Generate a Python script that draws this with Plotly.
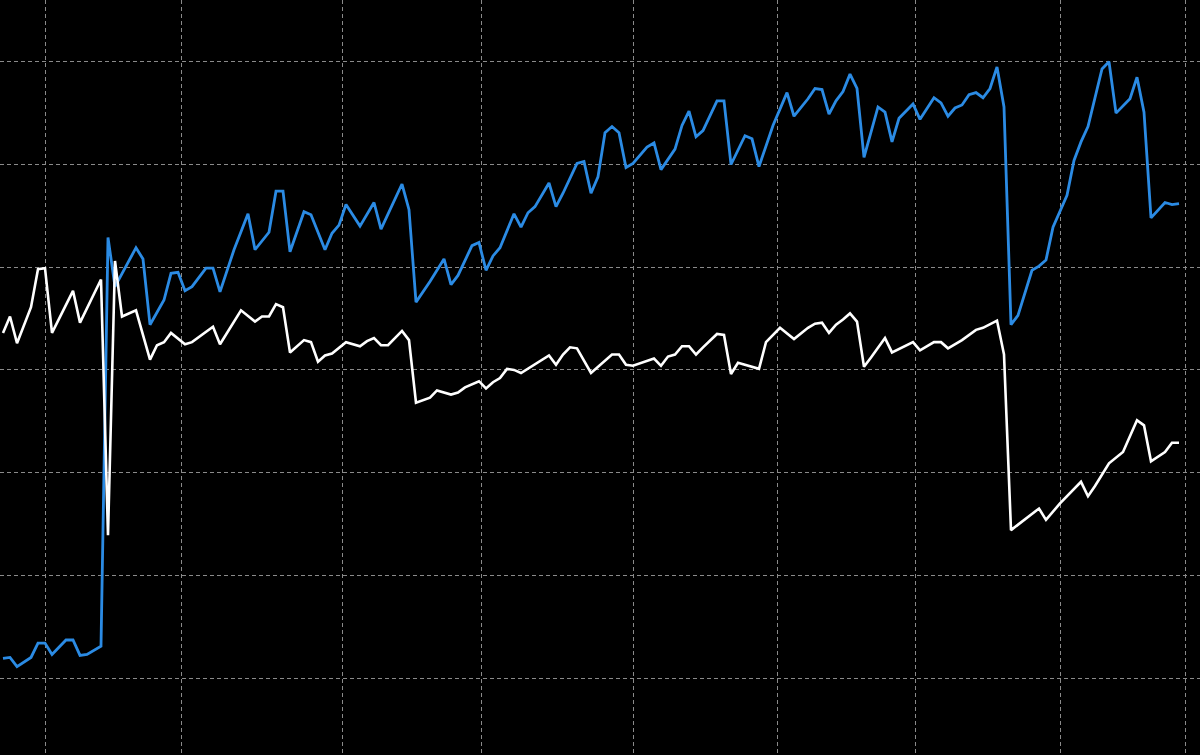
import plotly.graph_objects as go

# Business-day index (x) and values
blue_x = [0, 1, 2, 4, 5, 6, 7, 9, 10, 11, 12, 14, 15, 16, 19, 20, 21, 23, 24, 25,
          26, 27, 29, 30, 31, 33, 35, 36, 38, 39, 40, 41, 43, 44, 46, 47, 48, 49, 51, 53,
          54, 57, 58, 59, 61, 63, 64, 65, 67, 68, 69, 70, 71, 73, 74, 75, 76, 78, 79, 80,
          82, 83, 84, 85, 86, 87, 88, 89, 90, 92, 93, 94, 96, 97, 98, 99, 100, 102, 103, 104,
          106, 107, 108, 110, 112, 113, 115, 116, 117, 118, 119, 120, 121, 122, 123, 125, 126, 127, 128, 130,
          131, 133, 134, 135, 136, 137, 138, 139, 140, 141, 142, 143, 144, 145, 147, 148, 149, 150, 152, 153,
          154, 155, 157, 158, 159, 161, 162, 163, 164, 166, 167, 168]
blue_y = [0.19, 0.20, 0.11, 0.20, 0.34, 0.34, 0.23, 0.37, 0.37, 0.22, 0.23, 0.31, 4.29, 3.81, 4.19, 4.08, 3.44, 3.68, 3.94, 3.95,
          3.77, 3.81, 3.99, 3.99, 3.76, 4.17, 4.52, 4.17, 4.34, 4.74, 4.74, 4.15, 4.54, 4.51, 4.17, 4.33, 4.41, 4.61, 4.40, 4.63,
          4.37, 4.81, 4.56, 3.66, 3.86, 4.08, 3.83, 3.92, 4.21, 4.24, 3.97, 4.11, 4.19, 4.52, 4.39, 4.53, 4.59, 4.82, 4.59, 4.72,
          5.01, 5.03, 4.72, 4.88, 5.31, 5.37, 5.31, 4.97, 5.01, 5.17, 5.21, 4.95, 5.15, 5.38, 5.52, 5.27, 5.33, 5.62, 5.62, 5.00,
          5.28, 5.25, 4.98, 5.38, 5.70, 5.47, 5.64, 5.74, 5.73, 5.49, 5.62, 5.71, 5.88, 5.74, 5.07, 5.56, 5.51, 5.22, 5.45, 5.59,
          5.44, 5.65, 5.60, 5.47, 5.55, 5.58, 5.68, 5.70, 5.65, 5.74, 5.95, 5.56, 3.44, 3.53, 3.97, 4.01, 4.07, 4.39, 4.70, 5.04,
          5.22, 5.37, 5.93, 6.00, 5.50, 5.64, 5.85, 5.51, 4.48, 4.63, 4.61, 4.62]

white_x = [0, 1, 2, 4, 5, 6, 7, 10, 11, 14, 15, 16, 17, 19, 21, 22, 23, 24, 26, 27,
           30, 31, 34, 36, 37, 38, 39, 40, 41, 43, 44, 45, 46, 47, 49, 51, 52, 53, 54, 55,
           57, 58, 59, 61, 62, 64, 65, 66, 68, 69, 70, 71, 72, 73, 74, 78, 79, 80, 81, 82,
           84, 87, 88, 89, 90, 93, 94, 95, 96, 97, 98, 99, 100, 102, 103, 104, 105, 106, 108, 109,
           111, 113, 115, 116, 117, 118, 119, 120, 121, 122, 123, 124, 126, 127, 130, 131, 133, 134, 135, 137,
           139, 140, 142, 143, 144, 148, 149, 151, 154, 155, 156, 158, 160, 162, 163, 164, 166, 167, 168]
white_y = [3.36, 3.52, 3.26, 3.61, 3.98, 3.99, 3.36, 3.77, 3.46, 3.88, 1.39, 4.06, 3.52, 3.58, 3.10, 3.24, 3.27, 3.36, 3.25, 3.27,
           3.42, 3.25, 3.58, 3.47, 3.52, 3.52, 3.64, 3.61, 3.17, 3.29, 3.27, 3.08, 3.14, 3.16, 3.27, 3.23, 3.28, 3.31, 3.24, 3.24,
           3.38, 3.29, 2.68, 2.73, 2.80, 2.76, 2.78, 2.83, 2.89, 2.82, 2.88, 2.92, 3.01, 3.00, 2.97, 3.14, 3.05, 3.15, 3.22, 3.21,
           2.97, 3.15, 3.15, 3.05, 3.04, 3.11, 3.04, 3.13, 3.15, 3.23, 3.23, 3.15, 3.22, 3.35, 3.34, 2.96, 3.07, 3.05, 3.01, 3.27,
           3.41, 3.30, 3.41, 3.45, 3.46, 3.36, 3.44, 3.49, 3.55, 3.47, 3.03, 3.12, 3.31, 3.17, 3.27, 3.19, 3.27, 3.27, 3.21, 3.29,
           3.39, 3.41, 3.48, 3.15, 1.44, 1.65, 1.54, 1.70, 1.91, 1.77, 1.87, 2.09, 2.20, 2.51, 2.46, 2.11, 2.20, 2.29, 2.29]

# Month-start grid positions (in business-day index) and horizontal grid values
month_ticks = [6.0, 25.57, 48.43, 68.29, 90.0, 110.71, 130.29, 151.0, 168.86]
y_ticks = [0, 1, 2, 3, 4, 5, 6]

fig = go.Figure()
fig.add_trace(go.Scatter(x=blue_x, y=blue_y, mode="lines",
                         line=dict(color="#2b8be4", width=2.8), name="blue"))
fig.add_trace(go.Scatter(x=white_x, y=white_y, mode="lines",
                         line=dict(color="#ffffff", width=2.6), name="white"))

grid_style = dict(showgrid=True, gridcolor="#8a8a8a", gridwidth=1, griddash="4px,3px",
                  zeroline=False, showline=False, showticklabels=False, ticks="")
fig.update_xaxes(range=[-0.4286, 171.0], tickmode="array", tickvals=month_ticks, **grid_style)
fig.update_yaxes(range=[-0.7498, 6.6017], tickmode="array", tickvals=y_ticks, **grid_style)

fig.update_layout(width=1200, height=755, margin=dict(l=0, r=0, t=0, b=0, pad=0),
                  paper_bgcolor="#000000", plot_bgcolor="#000000", showlegend=False)

fig.write_html("out.html", config={"displayModeBar": False},
               post_script="document.body.style.margin='0';document.body.style.overflow='hidden';")
